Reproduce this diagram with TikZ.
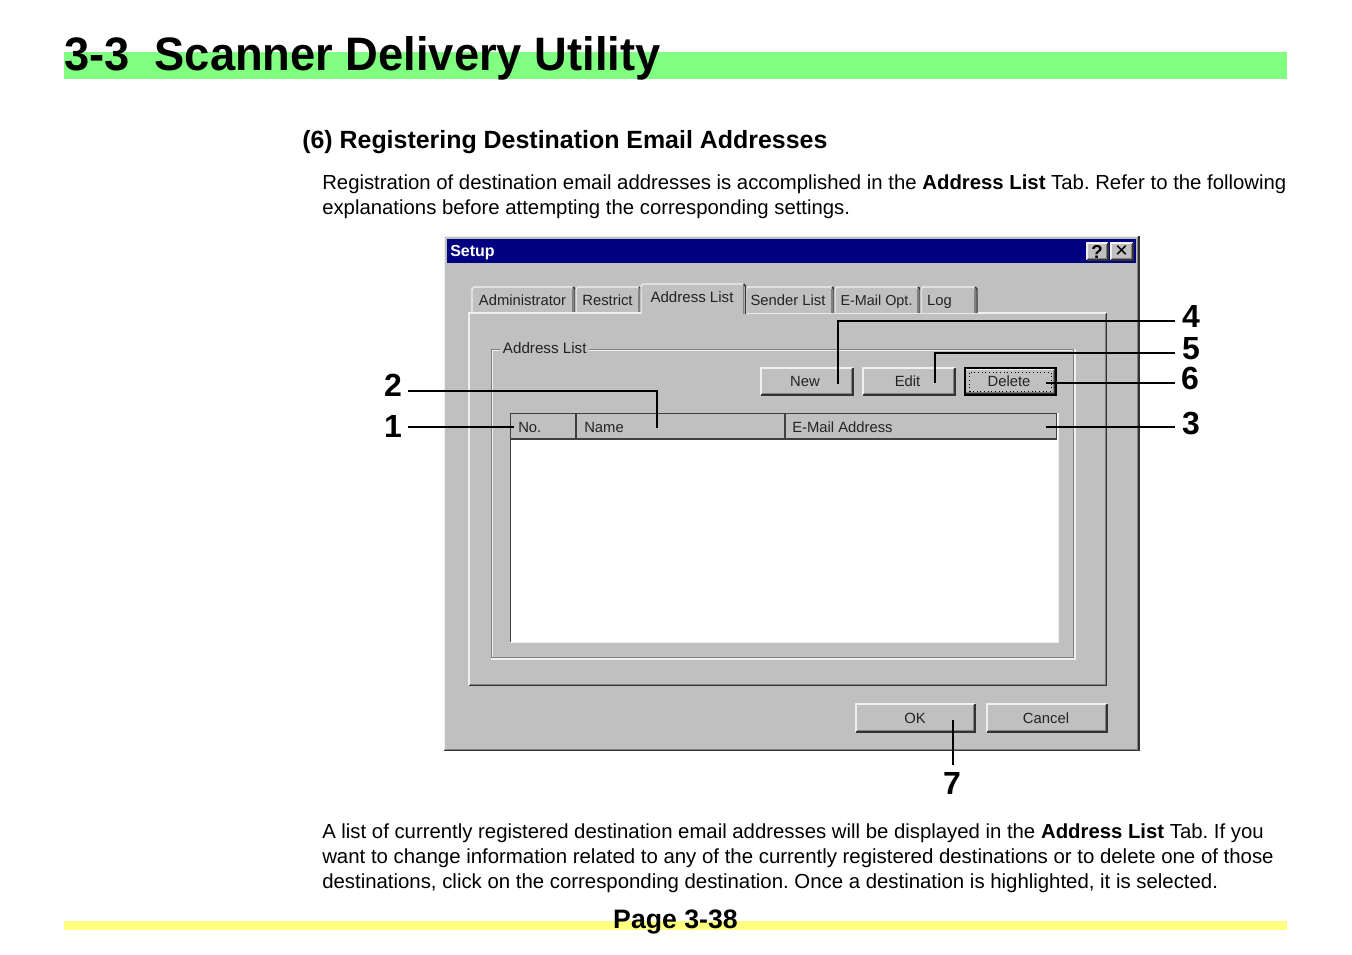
\documentclass[tikz,border=0pt]{standalone}
\usepackage{graphicx}
\usepackage{fontspec}
\setmainfont{Liberation Sans}
\newfontfamily\symfont{DejaVu Sans}
\frenchspacing
\definecolor{wingray}{RGB}{192,192,192}
\definecolor{winshadow}{RGB}{128,128,128}
\definecolor{winlight}{RGB}{240,240,240}
\definecolor{winnavy}{RGB}{0,0,128}
\definecolor{bargreen}{RGB}{128,255,128}
\definecolor{baryellow}{RGB}{255,255,128}
\definecolor{uitext}{RGB}{35,35,35}
\newcommand{\fs}[1]{\fontsize{#1}{#1}\selectfont}
% raised box: x1 y1 x2 y2
\newcommand{\raisedbox}[4]{%
  \fill[wingray] (#1,#2) rectangle (#3,#4);
  \draw[hl] (#1,#4) -- (#1,#2) -- (#3,#2);
  \draw[sh] (#1+1,#4-1) -- (#3-1,#4-1) -- (#3-1,#2+1);
  \draw[dk] (#1,#4) -- (#3,#4) -- (#3,#2);
}
% tab: x1 top x2 bottom
\newcommand{\wintab}[4]{%
  \fill[wingray] (#1,#4) -- (#1,#2+2) -- (#1+2,#2) -- (#3-2,#2) -- (#3,#2+2) -- (#3,#4) -- cycle;
  \draw[hl] (#1,#4) -- (#1,#2+2) -- (#1+2,#2) -- (#3-2,#2);
  \draw[dk] (#3-2,#2) -- (#3,#2+2) -- (#3,#4);
  \draw[sh] (#3-2,#2+2) -- (#3-2,#4);
}
\tikzset{
  x=0.75pt,y=-0.75pt,
  hl/.style={draw=winlight,line width=1pt},
  sh/.style={draw=winshadow,line width=0.8pt},
  dk/.style={draw=black!80,line width=1.1pt},
  body/.style={anchor=base west,inner sep=0pt,font=\fs{15.25},text=black},
  ui/.style={anchor=base,inner sep=0pt,font=\fs{11.1},text=uitext},
  callnum/.style={anchor=center,inner sep=0pt,font=\bfseries\fs{24}},
  callout/.style={draw=black,line width=1.8pt,line cap=butt,line join=miter},
  listedge/.style={draw=black!75,line width=1.4pt},
}
\begin{document}
\begin{tikzpicture}
\useasboundingbox (0,0) rectangle (1352,954);
\fill[white] (0,0) rectangle (1352,954);
% header and footer bands
\fill[bargreen] (64,52) rectangle (1287,79);
\node[anchor=base west,inner sep=0pt,font=\bfseries\fs{35.2}] (title) at (64,70.5) {\scalebox{0.965}[1]{3-3\hspace{0.55em}Scanner Delivery Utility}};
\fill[baryellow] (64,921) rectangle (1287,930);
\node[anchor=base,inner sep=0pt,font=\bfseries\fs{20}] (page) at (675.5,928) {Page 3-38};
% texts
\node[anchor=base west,inner sep=0pt,font=\bfseries\fs{18.7}] (head) at (302,148) {(6) Registering Destination Email Addresses};
\node[body] (p1) at (322,189) {Registration of destination email addresses is accomplished in the \textbf{Address List} Tab. Refer to the following};
\node[body] (p2) at (322,214) {explanations before attempting the corresponding settings.};
\node[body] (p3) at (322,838) {A list of currently registered destination email addresses will be displayed in the \textbf{Address List} Tab. If you};
\node[body,font=\fs{15.3}] (p4) at (322,863) {want to change information related to any of the currently registered destinations or to delete one of those};
\node[body,font=\fs{15.28}] (p5) at (322,888) {destinations, click on the corresponding destination. Once a destination is highlighted, it is selected.};
% window
\fill[wingray] (444,236) rectangle (1139,751);
\draw[hl] (444.5,751) -- (444.5,236.5) -- (1139,236.5);
\draw[sh] (445,749.5) -- (1137.5,749.5) -- (1137.5,237);
\draw[dk] (444,750.6) -- (1139,750.6) -- (1139,236);
\fill[winnavy] (447,239) rectangle (1136,263);
\node[anchor=base west,inner sep=0pt,font=\bfseries\fs{12},text=white] (setup) at (450,256) {Setup};
\raisedbox{1087}{243}{1108}{260}
\node[inner sep=0pt,font=\bfseries\fs{14}] (help) at (1097,251.5) {?};
\raisedbox{1111}{243}{1133}{260}
\node[inner sep=0pt,font=\symfont\bfseries\fs{12.5}] (close) at (1121.5,251.5) {✕};
% tab panel
\raisedbox{469}{313}{1106.5}{685.5}
% tabs
\wintab{472}{287}{575}{313}
\wintab{576}{287}{641}{313}
\wintab{746}{287}{834}{313}
\wintab{835}{287}{920}{313}
\wintab{921}{287}{977}{313}
\wintab{641}{284}{745.5}{314}
\draw[hl] (469,313) -- (641,313);
\node[ui] (tabAdmin) at (522.5,305) {Administrator};
\node[ui] (tabRestrict) at (607.5,305) {Restrict};
\node[ui,font=\fs{11.3}] (tabAddress) at (692,302.5) {Address List};
\node[ui] (tabSender) at (788,305) {Sender List};
\node[ui,font=\fs{10.8}] (tabMail) at (876.5,305) {E-Mail Opt.};
\node[ui] (tabLog) at (939.5,305) {Log};
% group box
\draw[draw=winshadow,line width=1pt] (491.5,658) -- (491.5,349.5) -- (1074,349.5) -- (1074,658) -- cycle;
\draw[draw=winlight,line width=1pt] (492.5,657) -- (492.5,350.5) -- (1073,350.5);
\draw[draw=winlight,line width=1pt] (491,659) -- (1075,659) -- (1075,349);
\node[anchor=base west,inner sep=2pt,fill=wingray,font=\fs{11.4},text=uitext] (group) at (500,353) {Address List};
% buttons
\raisedbox{761}{368}{853}{395}
\node[ui] (new) at (805,386) {New};
\raisedbox{863}{368}{955}{395}
\node[ui] (edit) at (907.5,386) {Edit};
\raisedbox{965}{369}{1055}{394}
\draw[black,line width=1.5pt] (964.5,367.5) rectangle (1056,395);
\draw[black,line width=0.75pt,dotted] (969.5,372.5) rectangle (1051,391);
\node[ui] (delete) at (1009,386) {Delete};
% list
\fill[white] (510,413) rectangle (1058,642);
\draw[draw=winlight,line width=1.2pt] (510,642.5) -- (1058.5,642.5) -- (1058.5,413);
\fill[wingray] (511,414) rectangle (1056,439);
\draw[listedge] (510.5,642) -- (510.5,413.5) -- (1056.5,413.5) -- (1056.5,439);
\draw[listedge] (510.5,439) -- (1056.5,439);
\draw[listedge] (576,414) -- (576,439);
\draw[listedge] (785,414) -- (785,439);
\node[ui,anchor=base west] (colNo) at (518,432) {No.};
\node[ui,anchor=base west] (colName) at (584,432) {Name};
\node[ui,anchor=base west] (colMail) at (792,432) {E-Mail Address};
% bottom buttons
\raisedbox{856}{704}{975}{732}
\node[ui] (ok) at (915,723) {OK};
\raisedbox{987}{704}{1107}{732}
\node[ui] (cancel) at (1046,723) {Cancel};
% callouts
\node[callnum] (n1) at (393,426) {1};
\node[callnum] (n2) at (393,385) {2};
\node[callnum] (n3) at (1191,423) {3};
\node[callnum] (n4) at (1191,316) {4};
\node[callnum] (n5) at (1191,348.5) {5};
\node[callnum] (n6) at (1190,378) {6};
\node[callnum] (n7) at (952,783) {7};
\coordinate (e1s) at (408,427); \coordinate (e1) at (514,427);
\coordinate (e2s) at (408,391); \coordinate (e2b) at (657,391); \coordinate (e2) at (657,428);
\coordinate (e3s) at (1175,427); \coordinate (e3) at (1046,427);
\coordinate (e4s) at (1175,321); \coordinate (e4b) at (838,321); \coordinate (e4) at (838,384);
\coordinate (e5s) at (1175,353); \coordinate (e5b) at (935,353); \coordinate (e5) at (935,383);
\coordinate (e6s) at (1175,383); \coordinate (e6) at (1046,383);
\coordinate (e7s) at (953,765); \coordinate (e7) at (953,720);
\draw[callout] (e1s) -- (e1);
\draw[callout] (e2s) -- (e2b) -- (e2);
\draw[callout] (e3s) -- (e3);
\draw[callout] (e4s) -- (e4b) -- (e4);
\draw[callout] (e5s) -- (e5b) -- (e5);
\draw[callout] (e6s) -- (e6);
\draw[callout] (e7s) -- (e7);
\end{tikzpicture}
\end{document}
